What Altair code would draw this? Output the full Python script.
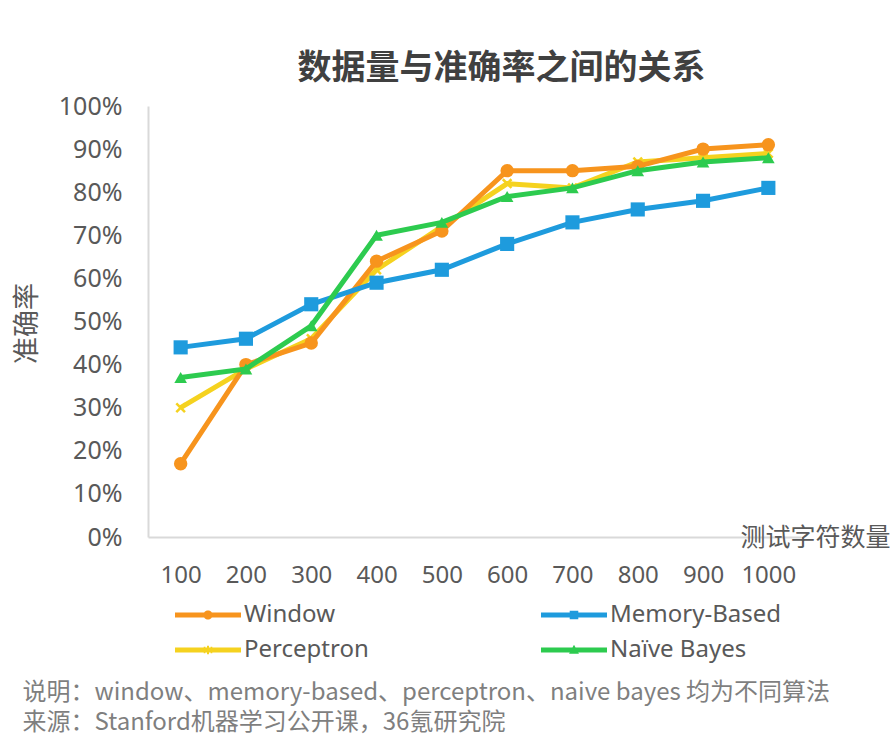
import altair as alt
import pandas as pd

# ---- data ----
x_labels = ["100", "200", "300", "400", "500", "600", "700", "800", "900", "1000"]
series = ["Window", "Memory-Based", "Perceptron", "Naïve Bayes"]
window = [0.17, 0.40, 0.45, 0.64, 0.71, 0.85, 0.85, 0.86, 0.90, 0.91]
memory_based = [0.44, 0.46, 0.54, 0.59, 0.62, 0.68, 0.73, 0.76, 0.78, 0.81]
perceptron = [0.30, 0.39, 0.46, 0.62, 0.72, 0.82, 0.81, 0.87, 0.88, 0.89]
naive_bayes = [0.37, 0.39, 0.49, 0.70, 0.73, 0.79, 0.81, 0.85, 0.87, 0.88]

title_text = "数据量与准确率之间的关系"
y_title = "准确率"
x_title = "测试字符数量"
notes = ["说明：window、memory-based、perceptron、naive bayes 均为不同算法",
         "来源：Stanford机器学习公开课，36氪研究院"]

values = {"Window": window, "Memory-Based": memory_based,
          "Perceptron": perceptron, "Naïve Bayes": naive_bayes}
rows = []
for s in series:
    for n, v in zip(x_labels, values[s]):
        rows.append({"series": s, "n": n, "acc": v})
df = pd.DataFrame(rows)

# ---- styles ----
colors = {"Window": "#F7941D", "Memory-Based": "#1E9BDD",
          "Perceptron": "#F5D21F", "Naïve Bayes": "#2DCB4F"}
markers = {"Window": ("circle", 180, True),
           "Memory-Based": ("square", 200, True),
           "Perceptron": ("M-1,-1L1,1M1,-1L-1,1", 75, False),
           "Naïve Bayes": ("triangle-up", 160, True)}
legend_paths = {
    "Window": "M-1,-0.075H1V0.075H-1Z M-0.14,0A0.14,0.14 0 1,1 0.14,0A0.14,0.14 0 1,1 -0.14,0Z",
    "Memory-Based": "M-1,-0.075H1V0.075H-1Z M-0.13,-0.13H0.13V0.13H-0.13Z",
    "Perceptron": "M-1,-0.075H1V0.075H-1Z M-0.03,-0.13H0.03V0.13H-0.03Z M-0.13,-0.1H-0.08V0.1H-0.13Z M0.08,-0.1H0.13V0.1H0.08Z",
    "Naïve Bayes": "M-1,-0.075H1V0.075H-1Z M0,-0.16L0.15,0.11H-0.15Z",
}
draw_order = ["Perceptron", "Window", "Memory-Based", "Naïve Bayes"]
# legend grid fills column by column: Window / Perceptron | Memory-Based / Naïve Bayes
legend_order = ["Window", "Perceptron", "Memory-Based", "Naïve Bayes"]

LATIN = "Noto Sans"
CJK = "Noto Sans CJK SC"
GRAY = "#595959"

x_axis = alt.Axis(labelAngle=0, labelFontSize=24, labelFont=LATIN, labelColor=GRAY,
                  labelPadding=26, ticks=False, grid=False,
                  domainColor="#d9d9d9", domainWidth=2,
                  title=x_title, titleFont=CJK, titleFontSize=25, titleFontWeight="normal",
                  titleColor=GRAY, titleX=742, titleY=0, titleAlign="right",
                  titleAnchor="end", titleBaseline="middle")
y_axis = alt.Axis(values=[i / 10 for i in range(11)], format=".0%",
                  labelFontSize=25, labelFont=LATIN, labelColor=GRAY, labelPadding=26,
                  ticks=False, grid=False, domainColor="#d9d9d9", domainWidth=2,
                  title=y_title, titleFont=CJK, titleFontSize=27, titleFontWeight="normal",
                  titleColor=GRAY, titleX=-121, titleY=217, titleAngle=270,
                  titleAlign="center", titleBaseline="middle")

X = alt.X("n:N", sort=x_labels, scale=alt.Scale(type="point", padding=0.5), axis=x_axis)
Y = alt.Y("acc:Q", scale=alt.Scale(domain=[0, 1]), axis=y_axis)

layers = []
for s in draw_order:
    sub = alt.Chart(df).transform_filter(alt.datum.series == s)
    layers.append(sub.mark_line(color=colors[s], strokeWidth=5).encode(x=X, y=Y))
    shp, size, filled = markers[s]
    if filled:
        pt = sub.mark_point(shape=shp, size=size, filled=True, fill=colors[s],
                            opacity=1, strokeWidth=0)
    else:
        pt = sub.mark_point(shape=shp, size=size, filled=False, stroke=colors[s],
                            opacity=1, strokeWidth=2.5)
    layers.append(pt.encode(x=X, y=Y))
main = alt.layer(*layers)

legend = alt.Legend(title=None, orient="none", legendX=27, legendY=494, columns=2,
                    columnPadding=172, rowPadding=5, clipHeight=30, padding=0,
                    symbolSize=4356, symbolStrokeWidth=0, labelOffset=3,
                    labelFont=LATIN, labelFontSize=24, labelColor=GRAY, labelLimit=400)

note_axis = alt.Axis(orient="bottom", labels=False, ticks=False, domain=False, grid=False,
                     title=notes, titleFont=CJK, titleFontSize=24, titleLineHeight=30,
                     titleFontWeight="normal", titleColor="#7f7f7f", titleX=-126,
                     titleY=143, titleAlign="left", titleAnchor="start",
                     titleBaseline="top", titleLimit=2000)

legend_layer = alt.Chart(df).transform_filter("false").mark_point(filled=True, opacity=1).encode(
    x=alt.X("series:N", scale=alt.Scale(type="point"), axis=note_axis),
    color=alt.Color("series:N", scale=alt.Scale(domain=legend_order,
                    range=[colors[s] for s in legend_order]), legend=legend),
    shape=alt.Shape("series:N", scale=alt.Scale(domain=legend_order,
                    range=[legend_paths[s] for s in legend_order]), legend=legend),
)

chart = alt.layer(main, legend_layer).resolve_scale(x="independent").properties(
    width=653, height=431,
    background="white",
    autosize=alt.AutoSizeParams(type="none"),
    padding={"left": 148, "top": 106, "right": 89, "bottom": 204},
    title=alt.TitleParams(text=title_text, font=CJK, fontSize=34, fontWeight="bold",
                          color="#404040", anchor="middle", dx=27, dy=50, offset=24,
                          baseline="bottom"),
).configure_view(stroke=None)

chart.save("out.html", embed_options={"renderer": "svg", "actions": False})
